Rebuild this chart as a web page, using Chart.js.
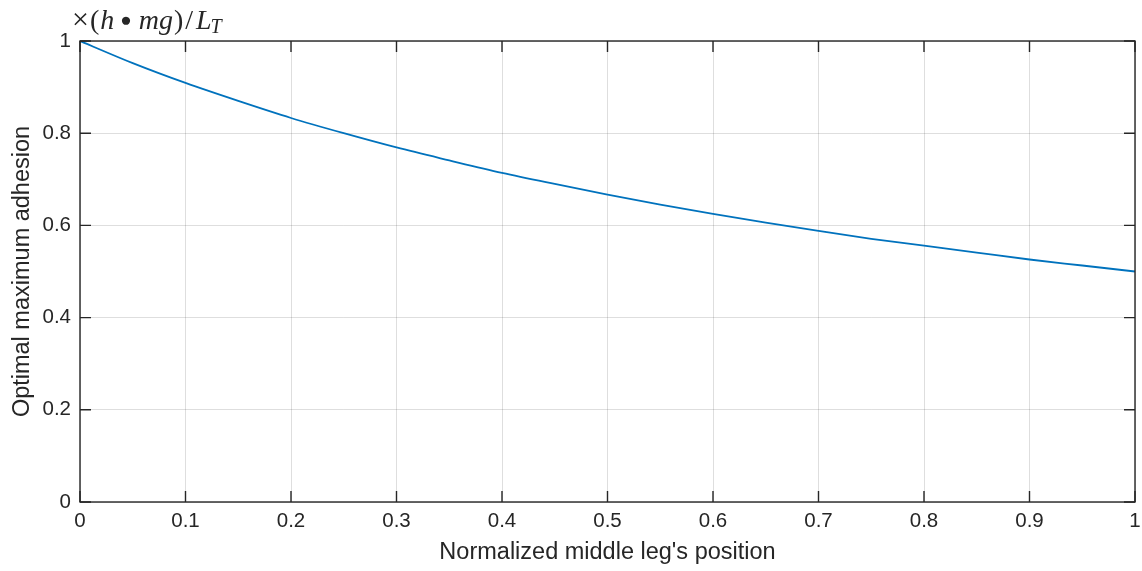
<!DOCTYPE html>
<html>
<head>
<meta charset="utf-8">
<script src="https://cdn.jsdelivr.net/npm/chart.js@4/dist/chart.umd.min.js"></script>
<style>
  html, body { margin: 0; padding: 0; background: #fff; }
  #wrap { width: 1142px; height: 571px; }
</style>
</head>
<body>
<div id="wrap"><canvas id="adhesionChart" width="1142" height="571"></canvas></div>
<script>
// values
var positions = [0, 0.05, 0.1, 0.15, 0.2, 0.25, 0.3, 0.35, 0.4, 0.45, 0.5,
                 0.55, 0.6, 0.65, 0.7, 0.75, 0.8, 0.85, 0.9, 0.95, 1];
var adhesion = [1, 0.952, 0.909, 0.870, 0.833, 0.800, 0.769, 0.741, 0.714, 0.690, 0.667,
                0.645, 0.625, 0.606, 0.588, 0.571, 0.556, 0.541, 0.526, 0.513, 0.5];
var xTicks = [0, 0.1, 0.2, 0.3, 0.4, 0.5, 0.6, 0.7, 0.8, 0.9, 1];
var yTicks = [0, 0.2, 0.4, 0.6, 0.8, 1];

var axisColor = '#262626';
var tickFont = { family: 'Liberation Sans, Arial, sans-serif', size: 20.5 };
var titleFont = { family: 'Liberation Sans, Arial, sans-serif', size: 23.5 };

// box around plot + inward tick marks, like matlab
var boxPlugin = {
    id: 'boxPlugin',
    afterDraw: function(chart) {
        var c = chart.ctx;
        var a = chart.chartArea;
        var xs = chart.scales.x, ys = chart.scales.y;
        c.save();
        c.strokeStyle = axisColor;
        c.lineWidth = 1.4;
        c.strokeRect(a.left, a.top, a.right - a.left, a.bottom - a.top);
        c.beginPath();
        xTicks.forEach(function(t) {
            var px = xs.getPixelForValue(t);
            c.moveTo(px, a.bottom); c.lineTo(px, a.bottom - 11);
            c.moveTo(px, a.top); c.lineTo(px, a.top + 11);
        });
        yTicks.forEach(function(t) {
            var py = ys.getPixelForValue(t);
            c.moveTo(a.left, py); c.lineTo(a.left + 11, py);
            c.moveTo(a.right, py); c.lineTo(a.right - 11, py);
        });
        c.stroke();

        // exponent-like label above the axis
        var x = a.left - 8;
        var y = a.top - 12;
        c.fillStyle = axisColor;
        c.textBaseline = 'alphabetic';
        var parts = [
            ['×', 'normal', 30, 1], ['(', 'normal', 28, 1], ['h', 'italic', 28, 6],
            ['●', 'normal', 19, 7], ['mg', 'italic', 28, 1], [')', 'normal', 28, 2],
            ['/', 'normal', 28, 3], ['L', 'italic', 28, 0]
        ];
        parts.forEach(function(p) {
            c.font = p[1] + ' ' + p[2] + 'px "Liberation Serif", "DejaVu Serif", serif';
            var yy = p[0] === '●' ? y - 3 : y;
            c.fillText(p[0], x, yy);
            x += c.measureText(p[0]).width + p[3];
        });
        c.font = 'italic 20px "Liberation Serif", "DejaVu Serif", serif';
        c.fillText('T', x - 1, y + 4);
        c.restore();
    }
};

var ctx = document.getElementById('adhesionChart').getContext('2d');
var adhesionChart = new Chart(ctx, {
    type: 'line',
    data: {
        datasets: [{
            data: positions.map(function(p, i) { return { x: p, y: adhesion[i] }; }),
            borderColor: '#0072BD',
            borderWidth: 1.8,
            pointRadius: 0,
            fill: false,
            cubicInterpolationMode: 'monotone'
        }]
    },
    options: {
        responsive: false,
        animation: false,
        layout: { padding: { top: 41, right: 7, left: 0, bottom: 0 } },
        plugins: {
            legend: { display: false },
            tooltip: { enabled: false }
        },
        scales: {
            x: {
                type: 'linear',
                min: 0,
                max: 1,
                afterBuildTicks: function(s) { s.ticks = xTicks.map(function(v) { return { value: v }; }); },
                afterFit: function(s) { s.height = 69; s.paddingLeft = 0; s.paddingRight = 0; },
                grid: { color: 'rgba(0,0,0,0.13)', drawTicks: false },
                border: { display: false },
                ticks: {
                    color: axisColor,
                    font: tickFont,
                    padding: 7,
                    maxRotation: 0,
                    callback: function(v) { return String(+v.toFixed(1)); }
                },
                title: {
                    display: true,
                    text: "Normalized middle leg's position",
                    color: axisColor,
                    font: titleFont,
                    padding: { top: 3 }
                }
            },
            y: {
                min: 0,
                max: 1,
                afterBuildTicks: function(s) { s.ticks = yTicks.map(function(v) { return { value: v }; }); },
                afterFit: function(s) { s.width = 80; s.paddingTop = 0; s.paddingBottom = 0; },
                grid: { color: 'rgba(0,0,0,0.13)', drawTicks: false },
                border: { display: false },
                ticks: {
                    color: axisColor,
                    font: tickFont,
                    padding: 9,
                    callback: function(v) { return String(+v.toFixed(1)); }
                },
                title: {
                    display: true,
                    text: 'Optimal maximum adhesion',
                    color: axisColor,
                    font: titleFont,
                    padding: { top: 8, bottom: 4 }
                }
            }
        }
    },
    plugins: [boxPlugin]
});
</script>
</body>
</html>
